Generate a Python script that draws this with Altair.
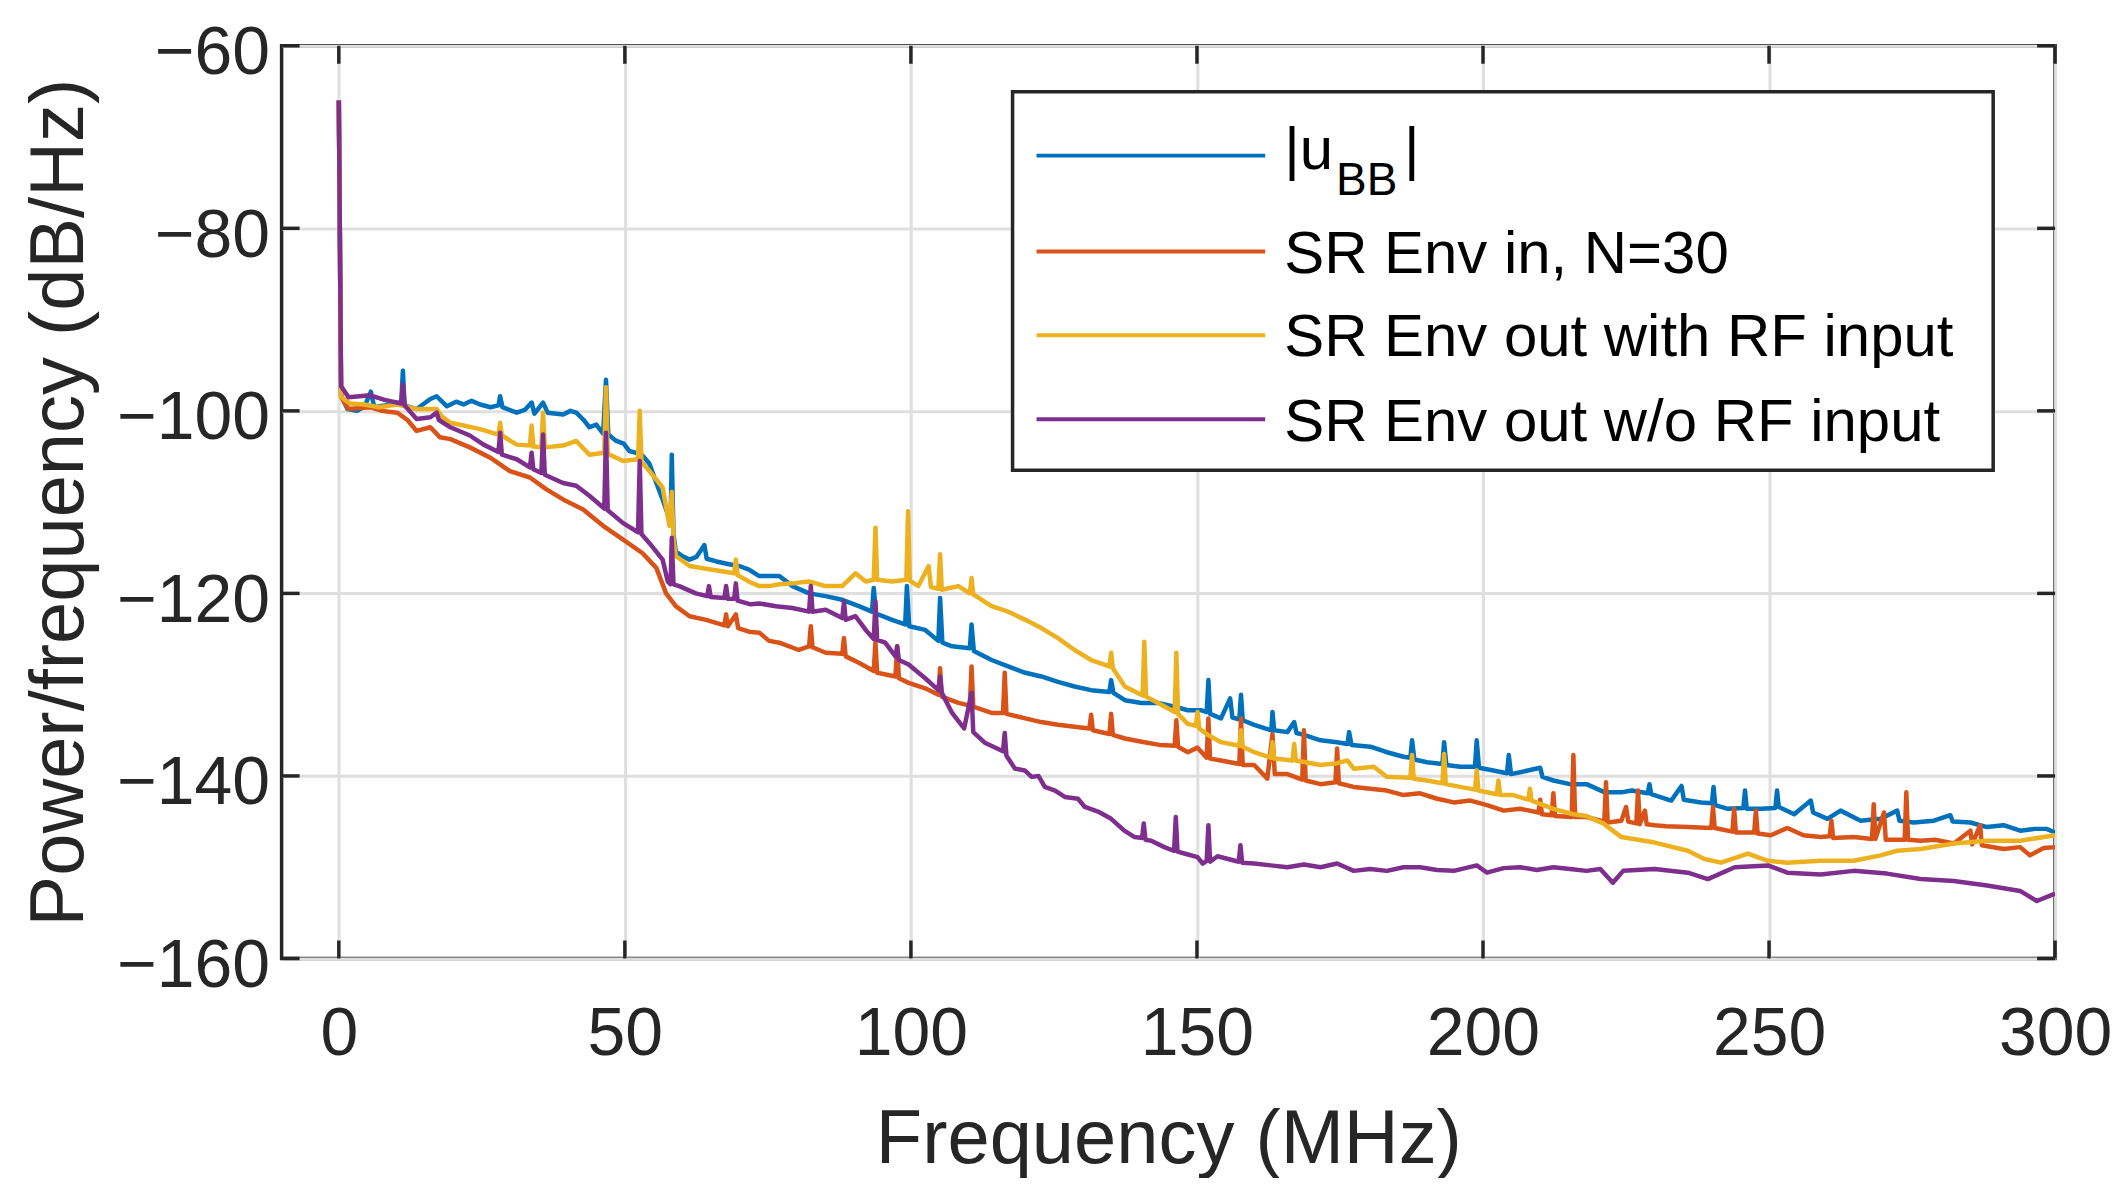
import altair as alt
import pandas as pd

# ---------------- data ----------------
blue_freq = [0, 0.4, 1.5, 3.2, 4.5, 5.6, 6.2, 8, 10.2, 10.9, 11.2, 11.5, 13.6, 16, 17.1, 18.9, 20.5,
             21.8, 23.2, 24.7, 26.5, 27.9, 28.2, 28.6, 31.1, 32.5, 33.7, 34.2, 35.7, 36.5, 39.2, 40.5,
             41.5, 42.8, 43.8, 45, 46.2, 46.7, 47.1, 48.5, 49.8, 50.8, 52, 53.1, 54.3, 55.5, 56.6, 57.6,
             58.0, 58.2, 58.5, 58.9, 60, 61.3, 62.5, 63.9, 64.3, 66, 68.2, 70, 71.7, 73.5, 75.2, 77, 79.3,
             82.2, 85.1, 88.0, 90.9, 93.2, 93.5, 93.9, 96.7, 99.0, 99.3, 99.7, 102.5, 104.8, 105.1, 105.5,
             107.2, 110.3, 110.6, 111.0, 114.1, 117, 120, 122.8, 125.7, 128.6, 131.5, 134.7, 135, 135.4,
             137.4, 140.3, 143.2, 146.1, 148.4, 150.7, 151.7, 152.0, 152.3, 154.2, 155.8, 156.2, 157.4,
             157.7, 158.0, 160.0, 163.0, 163.2, 163.5, 165.8, 167.0, 167.4, 168.7, 171.6, 174.5, 176.3,
             176.6, 177.0, 180.3, 183.2, 186.1, 187.3, 187.6, 188.0, 190.2, 192.9, 193.2, 193.6, 196,
             198.6, 198.9, 199.3, 201.8, 204.2, 204.5, 204.9, 206.5, 210.0, 210.4, 212.3, 215.2, 218.1,
             221.3, 224.2, 226, 228.8, 229.1, 229.4, 232.9, 234.7, 235.1, 238.1, 240.0, 240.3, 240.6,
             242.8, 245.5, 245.8, 246.1, 248.6, 251.1, 251.4, 251.7, 254.4, 257.3, 257.7, 260.2, 262.5,
             266, 269.5, 272.4, 272.8, 275.3, 278.8, 281.7, 282.1, 285.2, 288.1, 291, 293.9, 296.5,
             298.5, 300]
blue_db = [-66, -98.3, -99.8, -100.0, -99.5, -97.9, -99.6, -99.4, -99.1, -99.3, -95.6, -99.4, -99.8,
           -98.7, -98.4, -99.5, -99.0, -99.3, -98.9, -99.3, -99.6, -99.4, -98.4, -99.6, -100.2, -99.9,
           -99.1, -100.3, -99.1, -100.2, -100.4, -100.0, -100.2, -101.0, -101.8, -101.5, -102.5, -96.6,
           -102.6, -103.3, -103.6, -104.4, -104.6, -104.9, -105.8, -107.9, -109.7, -111.5, -112.0,
           -104.8, -113.5, -115.4, -115.9, -116.3, -116.0, -114.7, -116.2, -116.5, -116.8, -117.0,
           -117.4, -118.1, -118.1, -118.1, -119.2, -120.0, -120.3, -120.7, -121.4, -122.0, -119.4,
           -122.2, -122.9, -123.4, -119.2, -123.6, -124.0, -125.2, -120.5, -125.4, -125.8, -126.0,
           -123.4, -126.3, -127.3, -128.0, -128.7, -129.1, -129.7, -130.2, -130.6, -130.8, -129.5,
           -130.9, -131.7, -132.0, -132.0, -132.4, -132.8, -132.8, -133.0, -129.5, -133.2, -133.7,
           -131.5, -133.6, -133.8, -131.1, -133.9, -134.4, -135.0, -133.0, -135.0, -135.2, -134.1,
           -135.3, -135.5, -136.1, -136.3, -136.5, -135.2, -136.6, -136.8, -137.4, -137.9, -138.0,
           -136.1, -138.2, -138.5, -138.7, -136.3, -138.8, -139.0, -139.0, -136.1, -139.1, -139.4,
           -139.7, -137.7, -139.8, -139.6, -139.1, -140.1, -140.5, -140.9, -140.9, -141.8, -141.8,
           -141.6, -141.9, -140.9, -142.0, -142.7, -141.1, -142.6, -142.9, -143.0, -141.2, -143.2,
           -143.6, -143.5, -141.6, -143.6, -143.6, -143.5, -141.6, -143.4, -144.2, -142.7, -144.0,
           -144.7, -143.8, -144.9, -144.7, -143.8, -144.9, -145.1, -144.9, -144.3, -145.0, -145.1,
           -145.6, -145.4, -146.0, -145.8, -145.8, -146.2]

orange_freq = [0, 0.4, 1.7, 5.5, 7.5, 10.2, 12, 13.6, 16, 17.7, 19.5, 22.9, 26.4, 29.9, 33.4, 36.3,
               39.2, 42.7, 46.2, 49.7, 53.1, 55.5, 57.2, 58.9, 61.3, 64.2, 67.4, 67.7, 68.0, 69.4,
               69.8, 71.7, 73.5, 75.2, 77.0, 80.4, 82.2, 82.5, 82.8, 85.1, 88.0, 88.3, 88.6, 90.9,
               93.5, 93.8, 94.1, 97.3, 97.6, 97.9, 99.6, 102.5, 104.8, 105.1, 105.4, 108.3, 110.3,
               110.6, 110.9, 114.1, 116.1, 116.4, 116.7, 120, 122.8, 125.7, 128.6, 131.2, 131.5,
               131.8, 134.7, 135.0, 135.3, 137.4, 140.8, 143.5, 146.1, 146.4, 146.7, 148.4, 150.1,
               151.7, 152.0, 152.3, 154.2, 157.4, 157.7, 158.0, 160.0, 162.3, 163.2, 163.6, 165.8,
               168.4, 168.7, 169.0, 171.6, 174.2, 174.5, 174.8, 177.4, 180.3, 183.2, 186.1, 189,
               192, 194.9, 197.8, 200.7, 203.6, 206.5, 209.7, 210.0, 210.3, 212.0, 212.3, 212.6,
               215.5, 215.8, 216.1, 218.1, 221.2, 221.5, 221.8, 224.2, 225.0, 225.4, 226.8, 227.1,
               227.4, 228.3, 228.6, 230, 232, 235.8, 239.9, 240.2, 240.5, 243.6, 243.9, 244.2,
               247.4, 247.7, 248.0, 250.3, 253.2, 256, 259, 260.6, 260.9, 261.2, 264.8, 268.0,
               268.3, 268.6, 270.1, 270.4, 273.7, 274.0, 274.3, 276.5, 279, 282.3, 285.2, 285.5,
               286.9, 287.2, 291, 293.9, 295.6, 298, 300]
orange_db = [-66, -98.5, -99.8, -99.6, -100.0, -100.2, -101.0, -102.2, -101.8, -102.9, -103.1,
             -104.0, -105.1, -106.6, -107.3, -108.6, -109.7, -110.8, -112.6, -114.1, -115.6, -117.2,
             -120.0, -121.4, -122.5, -122.9, -123.5, -122.3, -123.6, -122.3, -123.8, -124.2, -124.3,
             -125.2, -125.4, -126.2, -125.8, -123.6, -125.9, -126.5, -126.6, -124.9, -126.9, -127.6,
             -128.5, -125.4, -128.7, -129.1, -125.8, -129.3, -129.8, -130.4, -131.1, -128.2, -131.3,
             -132.0, -132.3, -128.0, -132.4, -133.1, -133.1, -128.7, -133.2, -133.7, -134.1, -134.4,
             -134.6, -134.8, -133.3, -135.0, -135.4, -133.2, -135.5, -135.9, -136.3, -136.6, -136.7,
             -133.9, -136.8, -137.4, -136.9, -138.0, -133.7, -138.1, -138.3, -138.7, -133.7, -138.8,
             -138.8, -140.3, -135.4, -139.8, -139.8, -140.4, -135.0, -140.5, -140.9, -140.7, -137.0,
             -140.8, -141.2, -141.4, -141.6, -142.1, -141.9, -142.5, -142.9, -142.7, -143.2, -143.8,
             -143.6, -144.0, -142.6, -144.2, -144.3, -141.9, -144.4, -144.5, -137.7, -144.5, -144.5,
             -145.0, -140.7, -145.1, -144.9, -143.4, -145.0, -145.2, -141.6, -145.3, -143.8, -145.3,
             -145.4, -145.5, -145.6, -145.7, -143.4, -145.7, -146.1, -143.6, -146.2, -146.2, -143.8,
             -146.3, -146.5, -145.7, -146.5, -146.7, -146.6, -144.9, -146.8, -146.7, -146.9, -143.1,
             -146.9, -144.0, -147.0, -147.0, -141.8, -147.0, -147.1, -147.0, -147.4, -146.0, -147.5,
             -145.4, -147.6, -148.0, -147.8, -148.7, -147.9, -147.8]

yellow_freq = [0, 0.4, 2, 4.4, 7, 10.2, 13.6, 16, 17.1, 18.0, 19.5, 21.8, 24.7, 27.9, 28.2, 28.5,
               31.1, 33.4, 33.7, 34.0, 35.4, 35.7, 36.0, 39.2, 41.5, 43.8, 46.4, 46.7, 47.0, 49.7,
               52.3, 52.6, 52.9, 54.3, 56.6, 57.8, 58.2, 58.5, 58.9, 61.3, 65.3, 69.1, 69.4, 69.7,
               72, 73.5, 75.2, 77, 79.3, 82.2, 85.1, 88.0, 90.3, 92.1, 93.5, 93.8, 94.1, 96.7, 99.2,
               99.5, 99.8, 101.3, 103.1, 103.5, 104.8, 105.1, 105.4, 108.3, 110.3, 110.6, 110.9,
               114.1, 117, 120, 122.8, 125.7, 128.6, 131.5, 134.7, 135.0, 135.3, 137.4, 140.5,
               140.8, 141.1, 143.2, 146.1, 146.4, 146.7, 148.4, 149.8, 150.1, 150.4, 151.9, 154.2,
               157.4, 157.7, 158.0, 160.0, 162.9, 163.2, 163.5, 166.7, 167.0, 167.3, 171.6, 174.5,
               176.3, 177.4, 180.9, 183.2, 187.3, 187.6, 187.9, 190.2, 192.9, 193.2, 193.5, 196.0,
               198.6, 198.9, 199.2, 202.4, 202.7, 203.0, 205.3, 207.9, 208.2, 208.5, 212.3, 215.8,
               218.1, 221.0, 224.2, 230, 235.8, 238.7, 241.6, 246.3, 249.8, 253.2, 259, 264.8,
               269.5, 272.4, 276.5, 282.3, 288.1, 293.9, 300]
yellow_db = [-66, -98.5, -99.2, -99.3, -99.6, -99.3, -99.8, -99.8, -99.8, -100.6, -101.3, -101.6,
             -102.0, -102.6, -101.3, -102.7, -103.7, -103.8, -101.6, -103.9, -104.0, -100.2, -104.0,
             -103.8, -103.3, -104.8, -104.6, -97.4, -104.7, -105.5, -105.3, -100.0, -105.6, -106.6,
             -108.4, -112.6, -108.9, -114.0, -115.9, -117.0, -117.4, -117.8, -116.3, -118.0, -118.8,
             -119.2, -119.2, -119.0, -118.9, -118.7, -119.2, -119.2, -117.8, -118.7, -118.5, -112.8,
             -118.5, -118.7, -118.5, -111.0, -118.6, -119.2, -117.0, -119.3, -119.5, -115.7, -119.6,
             -119.2, -120.0, -118.3, -120.1, -121.4, -122.0, -122.9, -123.8, -124.9, -126.2, -127.3,
             -128.0, -126.5, -128.2, -130.2, -131.2, -125.3, -131.3, -132.0, -133.0, -126.5, -133.2,
             -134.3, -134.5, -133.0, -134.8, -135.5, -136.3, -136.7, -135.0, -136.8, -137.4, -138.0,
             -136.3, -138.1, -138.3, -136.5, -138.3, -138.8, -138.6, -138.3, -139.2, -139.0, -140.1,
             -140.2, -137.7, -140.3, -140.5, -140.8, -137.6, -140.9, -141.2, -141.5, -139.4, -141.6,
             -142.0, -140.5, -142.1, -142.1, -142.6, -141.4, -142.7, -143.6, -144.2, -144.4, -145.2,
             -146.7, -147.3, -148.2, -149.1, -149.5, -148.5, -149.3, -149.5, -149.3, -149.3, -148.7,
             -148.2, -148.0, -147.4, -147.1, -147.1, -146.5]

purple_freq = [0, 0.4, 1.7, 5.5, 8, 10.9, 11.2, 11.5, 13.6, 16, 17.1, 17.5, 19.5, 22.9, 25.3, 27.9,
               28.2, 28.5, 31.1, 33.4, 33.7, 34.0, 35.4, 35.7, 36.0, 39.2, 41.5, 43.8, 46.4, 46.7,
               47.0, 49.7, 52.3, 52.6, 52.9, 54.3, 56.6, 57.5, 58.0, 58.2, 58.5, 59.5, 62.4, 64.4,
               64.7, 65.0, 67.4, 67.7, 68.0, 69.1, 69.4, 69.7, 72, 73.5, 76.4, 79.3, 82.2, 82.5,
               82.8, 85.1, 88.0, 88.3, 88.6, 90.3, 92.1, 93.5, 93.8, 94.1, 95.5, 97.3, 97.6, 97.9,
               99.6, 102.5, 104.8, 105.1, 105.4, 107.2, 109.3, 110.6, 110.9, 113, 116.1, 116.4,
               116.7, 118.2, 119.9, 121.1, 122.3, 123.4, 125.2, 126.9, 129.2, 130.4, 132.7, 135.0,
               137.3, 139.1, 140.4, 140.7, 141.0, 142.0, 144.3, 146.0, 146.3, 146.6, 147.8, 150.1,
               151.0, 151.7, 152.0, 152.3, 153.6, 157.3, 157.6, 157.9, 160, 162.9, 165.8, 168.7,
               171.6, 174.5, 177.4, 180.3, 183.2, 186.1, 189, 192, 194.9, 198.9, 200.7, 203.6,
               206.5, 209.4, 212.3, 215.2, 218.1, 220.5, 222.7, 224.5, 230, 235.8, 239.3, 244,
               249.8, 253.2, 259, 264.8, 270.6, 276.5, 282.3, 288.1, 293.9, 296.8, 300]
purple_db = [-66, -97.3, -98.5, -98.3, -98.8, -99.2, -97.1, -99.4, -100.9, -100.7, -100.2, -101.0,
             -101.8, -102.7, -103.7, -104.5, -102.4, -104.8, -105.3, -106.2, -104.6, -106.4, -106.8,
             -102.6, -107.0, -107.9, -108.2, -109.3, -110.7, -102.4, -110.9, -112.3, -113.3, -105.5,
             -113.5, -114.5, -116.3, -118.7, -119.0, -113.9, -119.0, -119.2, -120.0, -120.3, -119.2,
             -120.4, -120.5, -119.2, -120.6, -120.6, -118.9, -120.8, -121.2, -121.1, -121.4, -121.6,
             -122.0, -119.2, -122.0, -121.8, -122.7, -120.9, -122.9, -122.5, -124.0, -125.0, -120.9,
             -125.1, -125.4, -126.9, -125.8, -127.3, -127.8, -129.3, -130.6, -129.1, -130.9, -133.1,
             -134.8, -130.9, -135.2, -136.4, -137.3, -135.3, -137.8, -139.2, -139.4, -140.1, -140.0,
             -141.2, -141.6, -142.3, -142.5, -143.4, -143.9, -144.7, -146.0, -146.7, -146.8, -145.2,
             -147.0, -147.1, -147.8, -148.2, -144.5, -148.3, -148.5, -148.9, -149.6, -149.3, -145.4,
             -149.4, -148.8, -149.4, -147.6, -149.5, -149.6, -149.8, -150.0, -149.7, -150.0, -149.6,
             -150.4, -150.2, -150.4, -150.0, -150.0, -150.3, -150.4, -149.8, -150.6, -150.1, -150.0,
             -150.3, -150.0, -150.2, -150.4, -150.2, -151.7, -150.4, -150.2, -150.6, -151.3, -150.0,
             -149.8, -150.6, -150.8, -150.4, -150.7, -151.3, -151.5, -152.0, -152.6, -153.7, -152.9]

series_names = ["|u_BB|", "SR Env in, N=30", "SR Env out with RF input", "SR Env out w/o RF input"]
series_colors = ["#0072BD", "#D95319", "#EDB120", "#7E2F8E"]

x_ticks = [0, 50, 100, 150, 200, 250, 300]
y_ticks = [-160, -140, -120, -100, -80, -60]

# ---------------- layout constants ----------------
W, H = 1776, 914
FONT = "Liberation Sans"
INK = "#262626"
TICK = 18

xscale = alt.Scale(domain=[-10, 300], nice=False, zero=False)
yscale = alt.Scale(domain=[-160, -60], nice=False, zero=False)

xaxis = alt.Axis(values=x_ticks, format="d", grid=True, gridColor="#dfdfdf", gridWidth=3,
                 ticks=False, tickSize=0, domain=False, labelFont=FONT, labelFontSize=68,
                 labelColor=INK, labelPadding=42, labelFlush=False, labelOverlap=False,
                 title="Frequency (MHz)", titleFont=FONT, titleFontSize=76,
                 titleFontWeight="normal", titleColor=INK, titleY=204,
                 titleBaseline="alphabetic")
yaxis = alt.Axis(values=y_ticks, format="d", grid=True, gridColor="#dfdfdf", gridWidth=3,
                 ticks=False, tickSize=0, domain=False, labelFont=FONT, labelFontSize=68,
                 labelColor=INK, labelPadding=12, labelOffset=8, labelFlush=False,
                 labelOverlap=False, title="Power/frequency (dB/Hz)", titleFont=FONT,
                 titleFontSize=76, titleFontWeight="normal", titleColor=INK, titleX=-199,
                 titleBaseline="alphabetic")

x_enc = alt.X("f:Q", scale=xscale, axis=xaxis)
y_enc = alt.Y("db:Q", scale=yscale, axis=yaxis)

layers = []
all_series = [(blue_freq, blue_db), (orange_freq, orange_db),
              (yellow_freq, yellow_db), (purple_freq, purple_db)]
for (fr, db), col in zip(all_series, series_colors):
    df = pd.DataFrame({"f": fr, "db": db})
    layers.append(
        alt.Chart(df).mark_line(color=col, strokeWidth=4.5, strokeJoin="round", clip=True)
        .encode(x=x_enc, y=y_enc)
    )

# inward ticks on all four sides (MATLAB box style)
xt = pd.DataFrame({"f": x_ticks})
yt = pd.DataFrame({"db": y_ticks})
tick_style = dict(color=INK, strokeWidth=3.5)
layers.append(alt.Chart(xt).mark_rule(**tick_style).encode(x=x_enc, y=alt.value(H), y2=alt.value(H - TICK)))
layers.append(alt.Chart(xt).mark_rule(**tick_style).encode(x=x_enc, y=alt.value(0), y2=alt.value(TICK)))
layers.append(alt.Chart(yt).mark_rule(**tick_style).encode(y=y_enc, x=alt.value(0), x2=alt.value(TICK)))
layers.append(alt.Chart(yt).mark_rule(**tick_style).encode(y=y_enc, x=alt.value(W), x2=alt.value(W - TICK)))

# ---------------- legend (drawn manually to allow the subscript) ----------------
one = pd.DataFrame({"k": [0]})
LX0, LX1, LY0, LY1 = 732, 1714, 46, 425
layers.append(alt.Chart(one).mark_rect(fill="white", stroke=INK, strokeWidth=3.5).encode(
    x=alt.value(LX0), x2=alt.value(LX1), y=alt.value(LY0), y2=alt.value(LY1)))

row_line_y = [110, 206, 290, 374]
row_text_y = [123, 228, 311, 396]
SW0, SW1, TX = 756, 985, 1004
for col, ly in zip(series_colors, row_line_y):
    layers.append(alt.Chart(one).mark_rule(color=col, strokeWidth=4).encode(
        x=alt.value(SW0), x2=alt.value(SW1), y=alt.value(ly)))

text_style = dict(font=FONT, fontSize=60, color="black", align="left", baseline="alphabetic")
legend_text = ["|u", "SR Env in, N=30", "SR Env out with RF input", "SR Env out w/o RF input"]
for txt, ty in zip(legend_text, row_text_y):
    layers.append(alt.Chart(one).mark_text(text=txt, **text_style).encode(
        x=alt.value(TX), y=alt.value(ty)))
layers.append(alt.Chart(one).mark_text(text="BB", font=FONT, fontSize=46, color="black",
                                       align="left", baseline="alphabetic").encode(
    x=alt.value(1056), y=alt.value(149)))
layers.append(alt.Chart(one).mark_text(text="|", **text_style).encode(
    x=alt.value(1124), y=alt.value(123)))

chart = alt.layer(*layers).properties(
    width=W, height=H,
    padding={"left": 274, "top": 37, "right": 62, "bottom": 219},
    autosize=alt.AutoSizeParams(type="none"),
    background="white",
).configure_view(stroke=INK, strokeWidth=3.5)

chart.save("out.html", embed_options={"renderer": "svg", "actions": False})
